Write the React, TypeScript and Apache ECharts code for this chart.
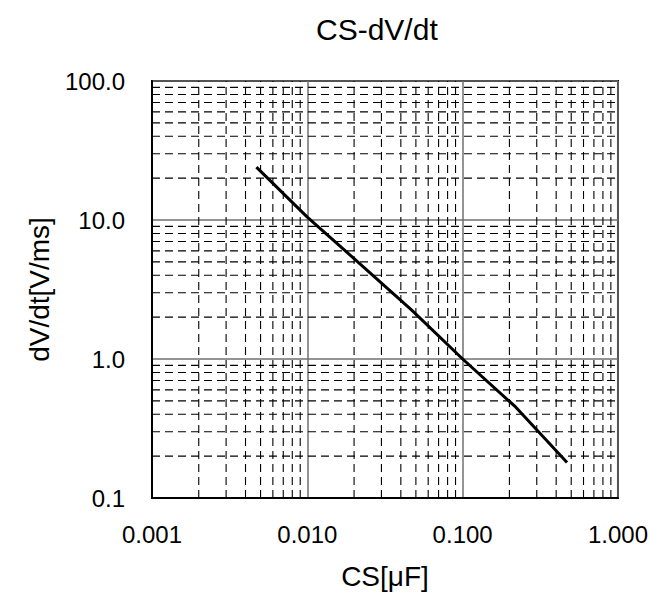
import React, { useEffect, useRef } from "react";
import * as echarts from "echarts";

const capacitance = [0.0047, 0.01, 0.022, 0.047, 0.1, 0.22, 0.47];
const dvdt = [24, 10.5, 4.8, 2.25, 1.0, 0.45, 0.18];
const xDecades = [0.001, 0.01, 0.1];
const yDecades = [0.1, 1, 10];
const minorSteps = [2, 3, 4, 5, 6, 7, 8, 9];
const xMin = 0.001, xMax = 1, yMin = 0.1, yMax = 100;

const FONT = "'Liberation Sans', Arial, sans-serif";

export default function App() {
  const ref = useRef<HTMLDivElement>(null);
  useEffect(() => {
    if (!ref.current) return;
    const chart = echarts.init(ref.current, undefined, { renderer: "svg" });
    const gridSeries: any[] = [];
    const dash = { color: "#000", width: 1.1, type: [8, 5] };
    xDecades.forEach((d) =>
      minorSteps.forEach((s) => {
        const x = +(d * s).toPrecision(6);
        gridSeries.push({
          type: "line", silent: true, symbol: "none", z: 1,
          lineStyle: dash, data: [[x, yMin], [x, yMax]],
        });
      })
    );
    yDecades.forEach((d) =>
      minorSteps.forEach((s) => {
        const y = +(d * s).toPrecision(6);
        gridSeries.push({
          type: "line", silent: true, symbol: "none", z: 1,
          lineStyle: dash, data: [[xMin, y], [xMax, y]],
        });
      })
    );
    chart.setOption({
      animation: false,
      backgroundColor: "#fff",
      title: {
        text: "CS-dV/dt",
        left: 311,
        top: 9,
        textStyle: { fontFamily: FONT, fontSize: 30, fontWeight: "normal", color: "#000" },
      },
      grid: {
        left: 152, right: 33, top: 81, bottom: 103,
        show: true, borderColor: "#000", borderWidth: 2, backgroundColor: "transparent",
      },
      xAxis: {
        type: "log", logBase: 10, min: xMin, max: xMax,
        name: "CS[μF]", nameLocation: "middle", nameGap: 64,
        nameTextStyle: { fontFamily: FONT, fontSize: 28, color: "#000" },
        axisLine: { show: true, lineStyle: { color: "#000", width: 2 } },
        axisTick: { show: false },
        axisLabel: {
          fontFamily: FONT, fontSize: 24, color: "#000", margin: 24,
          formatter: (v: number) => v.toFixed(3),
        },
        splitLine: { show: true, lineStyle: { color: "#707070", width: 1.5 } },
      },
      yAxis: {
        type: "log", logBase: 10, min: yMin, max: yMax,
        name: "dV/dt[V/ms]", nameLocation: "middle", nameGap: 99,
        nameTextStyle: { fontFamily: FONT, fontSize: 28, color: "#000" },
        axisLine: { show: true, lineStyle: { color: "#000", width: 2 } },
        axisTick: { show: false },
        axisLabel: {
          fontFamily: FONT, fontSize: 24, color: "#000", margin: 27,
          formatter: (v: number) => v.toFixed(1),
        },
        splitLine: { show: true, lineStyle: { color: "#707070", width: 1.5 } },
      },
      series: [
        ...gridSeries,
        {
          type: "line", name: "dV/dt", symbol: "none", z: 5,
          lineStyle: { color: "#000", width: 3 },
          data: capacitance.map((c, i) => [c, dvdt[i]]),
        },
      ],
    });
    return () => chart.dispose();
  }, []);
  return <div ref={ref} style={{ width: 651, height: 601, position: "absolute", left: 0, top: 0 }} />;
}
